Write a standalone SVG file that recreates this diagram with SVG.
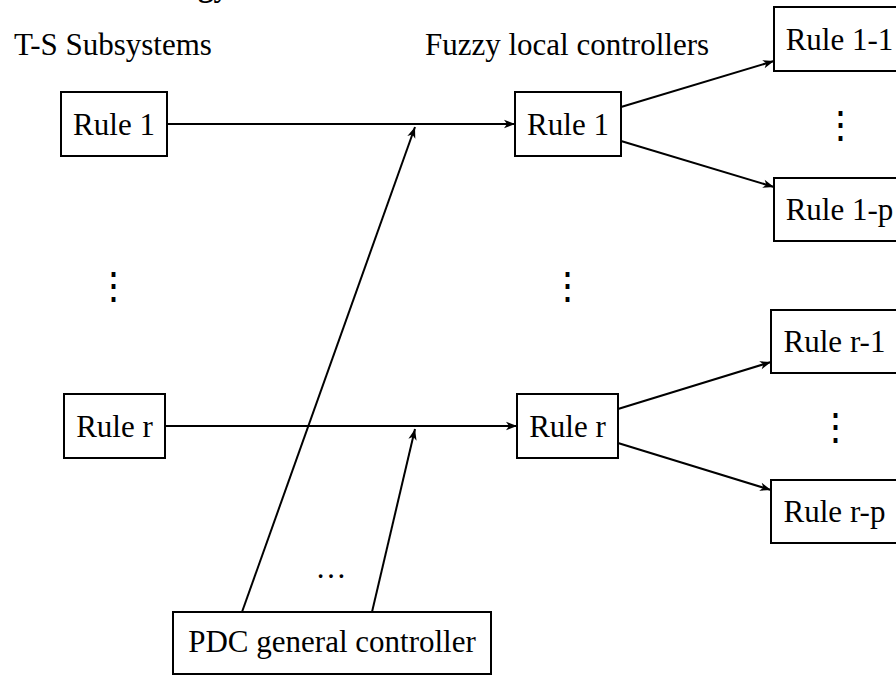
<svg xmlns="http://www.w3.org/2000/svg" width="896" height="675" viewBox="0 0 896 675">
<style>
text{font-family:"Liberation Serif","Times New Roman",serif;font-size:31px;fill:#000}
.c{text-anchor:middle}
.v{font-size:37px}
.box{fill:#fff;stroke:#000;stroke-width:2}
.ln{fill:none;stroke:#000;stroke-width:2}
.ar{marker-end:url(#ah)}
</style>
<defs>
<marker id="ah" viewBox="-12 -5 13 10" refX="0" refY="0" markerWidth="13" markerHeight="10" markerUnits="userSpaceOnUse" orient="auto">
<path d="M0,0 L-11,-4.2 L-8,0 L-11,4.2 Z" fill="#000"/>
</marker>
</defs>
<rect width="896" height="675" fill="#fff"/>
<text x="198" y="-4" font-weight="bold">gy</text>
<g id="headings">
<text class="c" x="113" y="55">T-S Subsystems</text>
<text class="c" x="567" y="55">Fuzzy local controllers</text>
</g>
<g id="connectors">
<path class="ln ar" d="M167,124 L515,124"/>
<path class="ln ar" d="M165,426 L517,426"/>
<path class="ln ar" d="M242,612 L415,127"/>
<path class="ln ar" d="M372,612 L415,429"/>
<path class="ln ar" d="M621,107 L774,61"/>
<path class="ln ar" d="M621,141 L774,187"/>
<path class="ln ar" d="M618,409 L771,362"/>
<path class="ln ar" d="M618,443 L771,490"/>
</g>
<g id="ts-rule1"><rect class="box" x="61" y="92" width="106" height="64"/><text class="c" x="114" y="135">Rule 1</text></g>
<g id="ts-ruler"><rect class="box" x="64" y="394" width="101" height="64"/><text class="c" x="114.5" y="437">Rule r</text></g>
<g id="ts-dots"><text class="c v" x="113" y="298">⋮</text></g>
<g id="fz-rule1"><rect class="box" x="515" y="92" width="106" height="64"/><text class="c" x="568" y="135">Rule 1</text></g>
<g id="fz-ruler"><rect class="box" x="517" y="394" width="101" height="64"/><text class="c" x="567.5" y="437">Rule r</text></g>
<g id="fz-dots"><text class="c v" x="567" y="298">⋮</text></g>
<g id="rule1-1"><rect class="box" x="774" y="7" width="131" height="64"/><text class="c" x="839.5" y="50">Rule 1-1</text></g>
<g id="rule1-dots"><text class="c v" x="840" y="137">⋮</text></g>
<g id="rule1-p"><rect class="box" x="774" y="178" width="131" height="63"/><text class="c" x="839.5" y="220">Rule 1-p</text></g>
<g id="ruler-1"><rect class="box" x="771" y="310" width="127" height="63"/><text class="c" x="834.5" y="352">Rule r-1</text></g>
<g id="ruler-dots"><text class="c v" x="835" y="439">⋮</text></g>
<g id="ruler-p"><rect class="box" x="771" y="480" width="127" height="63"/><text class="c" x="834.5" y="522">Rule r-p</text></g>
<g id="pdc-dots"><text class="c" x="331" y="578">…</text></g>
<g id="pdc"><rect class="box" x="173" y="612" width="318" height="62"/><text class="c" x="332" y="652">PDC general controller</text></g>
</svg>
